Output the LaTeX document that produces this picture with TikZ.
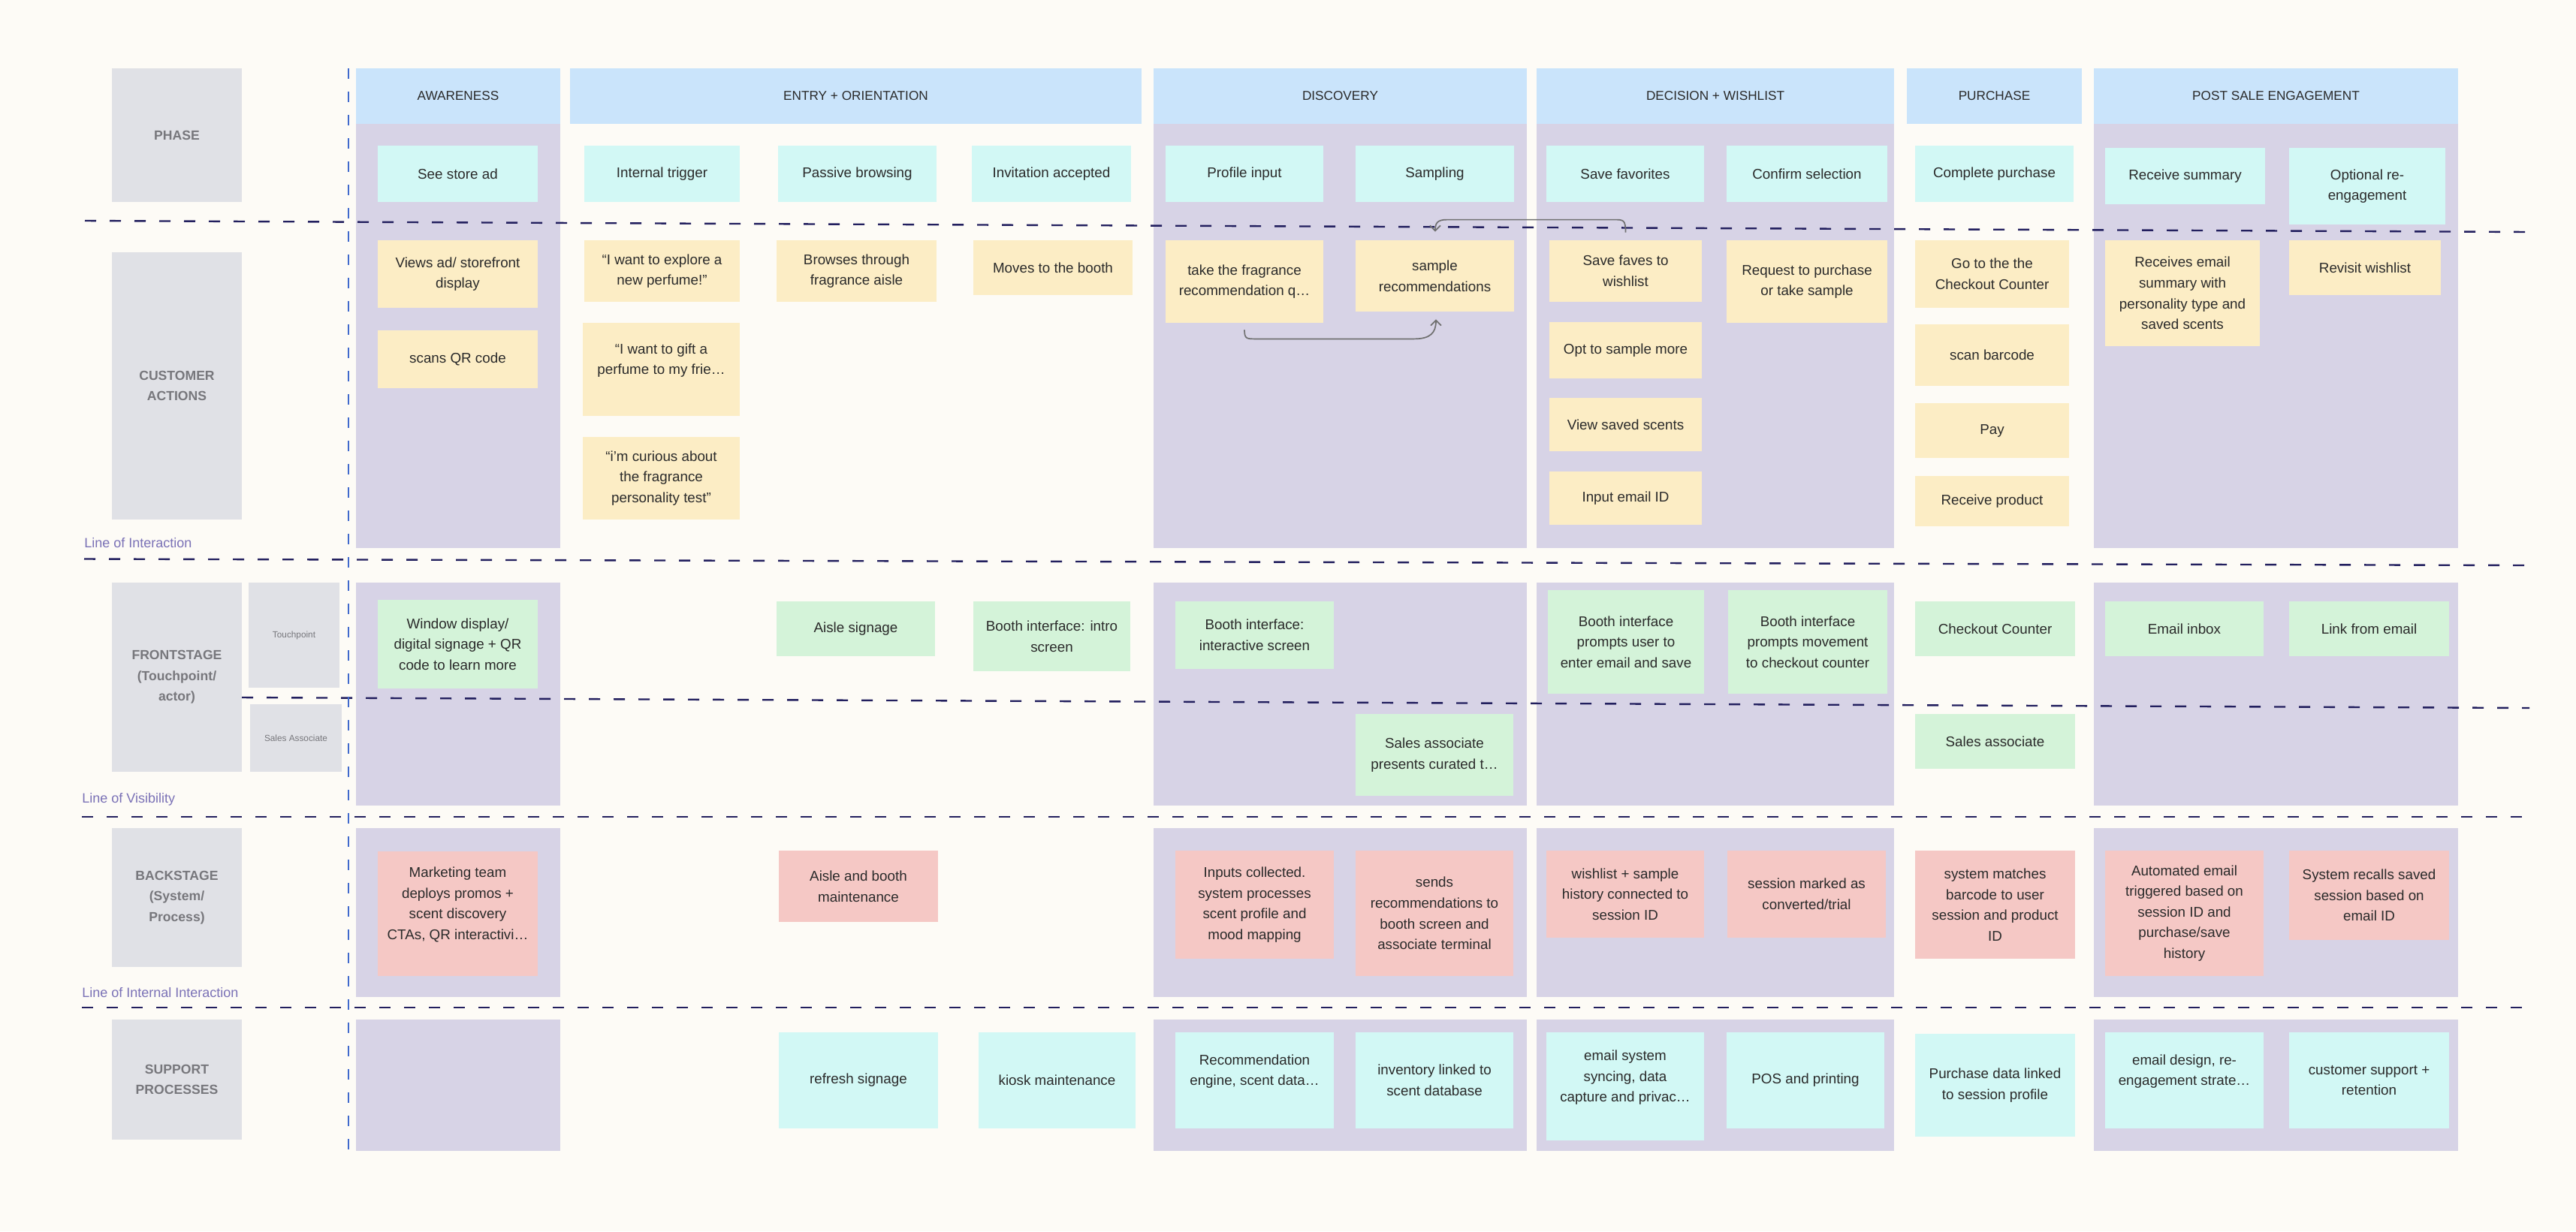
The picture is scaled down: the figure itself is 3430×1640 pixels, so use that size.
\documentclass[tikz,border=0pt]{standalone}
\usepackage{fontspec}
\setmainfont{Liberation Sans}
\usetikzlibrary{calc,arrows.meta}
\definecolor{bgc}{HTML}{FDFBF6}
\definecolor{hdrc}{HTML}{CAE4FB}
\definecolor{lanec}{HTML}{D7D3E6}
\definecolor{grayc}{HTML}{E0E1E6}
\definecolor{cyc}{HTML}{D2F8F5}
\definecolor{yec}{HTML}{FCEDC5}
\definecolor{grc}{HTML}{D4F3D9}
\definecolor{pkc}{HTML}{F5C8C5}
\definecolor{txtc}{HTML}{2A2A2A}
\definecolor{lblc}{HTML}{77777C}
\definecolor{linec}{HTML}{221F5E}
\definecolor{vlinec}{HTML}{4069CC}
\definecolor{lotc}{HTML}{7A71B6}
\definecolor{arrc}{HTML}{707070}
\newcommand\cardfont{\fontsize{9.4}{13.8}\selectfont}
\newcommand\hdrfont{\fontsize{8.6}{12}\selectfont}
\newcommand\lblfont{\fontsize{8.8}{13.8}\selectfont\bfseries}
\newcommand\smallfont{\fontsize{5.9}{8}\selectfont}
\newcommand\lotfont{\fontsize{9}{12}\selectfont}
\newcommand\card[7]{%
  \pgfmathsetmacro\cardW{(#4-#2)*0.5}%
  \pgfmathsetmacro\cardH{(#5-#3)*0.5}%
  \node[#6, minimum width=\cardW pt, minimum height=\cardH pt] (#1) at ({(#2+#4)/2},{(#3+#5)/2}) {#7};%
}
\tikzset{
  box/.style={rectangle, inner sep=0pt, align=center},
  lane/.style={box, fill=lanec},
  hdr/.style={box, fill=hdrc, text=txtc, font=\hdrfont},
  rowlbl/.style={box, fill=grayc, text=lblc, font=\lblfont},
  sublbl/.style={box, fill=grayc, text=lblc, font=\smallfont},
  card/.style={box, text=txtc, font=\cardfont},
  cy/.style={card, fill=cyc},
  ye/.style={card, fill=yec},
  gr/.style={card, fill=grc},
  pk/.style={card, fill=pkc},
  sepline/.style={draw=linec, line width=1.2pt, dash pattern=on 7.5pt off 9pt},
  vline/.style={draw=vlinec, line width=1pt, dash pattern=on 7pt off 8.5pt},
  lotlbl/.style={anchor=west, inner sep=0pt, text=lotc, font=\lotfont},
  conn/.style={draw=arrc, line width=0.85pt, -{Straight Barb[length=3.5pt,width=7pt]}}
}
\begin{document}
\begin{tikzpicture}[x=0.5pt,y=-0.5pt]
\fill[bgc] (0,0) rectangle (3430,1640);
\useasboundingbox (0,0) rectangle (3430,1640);

% lanes
\card{laneA1}{474}{165}{746}{730}{lane}{}
\card{laneD1}{1536}{165}{2033}{730}{lane}{}
\card{laneW1}{2046}{165}{2522}{730}{lane}{}
\card{laneP1}{2788}{165}{3273}{730}{lane}{}
\card{laneA2}{474}{776}{746}{1073}{lane}{}
\card{laneD2}{1536}{776}{2033}{1073}{lane}{}
\card{laneW2}{2046}{776}{2522}{1073}{lane}{}
\card{laneP2}{2788}{776}{3273}{1073}{lane}{}
\card{laneA3}{474}{1103}{746}{1328}{lane}{}
\card{laneD3}{1536}{1103}{2033}{1328}{lane}{}
\card{laneW3}{2046}{1103}{2522}{1328}{lane}{}
\card{laneP3}{2788}{1103}{3273}{1328}{lane}{}
\card{laneA4}{474}{1358}{746}{1533}{lane}{}
\card{laneD4}{1536}{1358}{2033}{1533}{lane}{}
\card{laneW4}{2046}{1358}{2522}{1533}{lane}{}
\card{laneP4}{2788}{1358}{3273}{1533}{lane}{}

% headers
\card{hA}{474}{91}{746}{165}{hdr}{AWARENESS}
\card{hE}{759}{91}{1520}{165}{hdr}{ENTRY + ORIENTATION}
\card{hD}{1536}{91}{2033}{165}{hdr}{DISCOVERY}
\card{hW}{2046}{91}{2522}{165}{hdr}{DECISION + WISHLIST}
\card{hP}{2539}{91}{2772}{165}{hdr}{PURCHASE}
\card{hS}{2788}{91}{3273}{165}{hdr}{POST SALE ENGAGEMENT}

% row labels
\card{rPhase}{149}{91}{322}{269}{rowlbl}{PHASE}
\card{rCust}{149}{336}{322}{692}{rowlbl}{CUSTOMER\\ACTIONS}
\card{rFront}{149}{776}{322}{1028}{rowlbl}{FRONTSTAGE\\(Touchpoint/\\actor)}
\card{rTouch}{331}{776}{452}{916}{sublbl}{Touchpoint}
\card{rSales}{333}{938}{455}{1028}{sublbl}{Sales Associate}
\card{rBack}{149}{1103}{322}{1288}{rowlbl}{BACKSTAGE\\(System/\\Process)}
\card{rSupp}{149}{1358}{322}{1518}{rowlbl}{SUPPORT\\PROCESSES}

% separator lines
\coordinate (l1a) at (113,294);  \coordinate (l1b) at (3368,309);
\coordinate (l2a) at (112,744.5); \coordinate (l2b) at (3368,753);
\coordinate (l2ca) at (322,929); \coordinate (l2cb) at (3368,943);
\coordinate (l3a) at (109,1088); \coordinate (l3b) at (3368,1088);
\coordinate (l4a) at (109,1342); \coordinate (l4b) at (3368,1342);
\draw[sepline] (l1a) -- (l1b);
\draw[sepline] (l2a) -- (l2b);
\draw[sepline] (l2ca) -- (l2cb);
\draw[sepline] (l3a) -- (l3b);
\draw[sepline] (l4a) -- (l4b);

\node[lotlbl] (lot1) at (112,723) {Line of Interaction};
\node[lotlbl] (lot2) at (109,1065) {Line of Visibility};
\node[lotlbl] (lot3) at (109,1322) {Line of Internal Interaction};

% phase row
\card{p1}{503}{194}{716}{269}{cy}{See store ad}
\card{p2}{778}{194}{985}{269}{cy}{Internal trigger}
\card{p3}{1036}{194}{1247}{269}{cy}{Passive browsing}
\card{p4}{1294}{194}{1506}{269}{cy}{Invitation accepted}
\card{p5}{1552}{194}{1762}{269}{cy}{Profile input}
\card{p6}{1805}{194}{2016}{269}{cy}{Sampling}
\card{p7}{2059}{194}{2269}{269}{cy}{Save favorites}
\card{p8}{2299}{194}{2513}{269}{cy}{Confirm selection}
\card{p9}{2550}{194}{2761}{269}{cy}{Complete purchase}
\card{p10}{2803}{197}{3016}{272}{cy}{Receive summary}
\card{p11}{3048}{197}{3256}{299}{cy}{Optional re-\\engagement}

% customer actions
\card{c1}{503}{320}{716}{410}{ye}{Views ad/ storefront\\display}
\card{c2}{503}{440}{716}{517}{ye}{scans QR code}
\card{c3}{778}{320}{985}{402}{ye}{“I want to explore a\\new perfume!”}
\card{c4}{776}{430}{985}{554}{ye}{“I want to gift a\\perfume to my frie…\\\mbox{}}
\card{c5}{776}{582}{985}{692}{ye}{“i’m curious about\\the fragrance\\personality test”}
\card{c6}{1034}{320}{1247}{402}{ye}{Browses through\\fragrance aisle}
\card{c7}{1296}{320}{1508}{393}{ye}{Moves to the booth}
\card{c8}{1552}{320}{1762}{430}{ye}{take the fragrance\\recommendation q…}
\card{c9}{1805}{320}{2016}{415}{ye}{sample\\recommendations}
\card{c10}{2063}{320}{2266}{402}{ye}{Save faves to\\wishlist}
\card{c11}{2063}{429}{2266}{504}{ye}{Opt to sample more}
\card{c12}{2063}{530}{2266}{601}{ye}{View saved scents}
\card{c13}{2063}{628}{2266}{699}{ye}{Input email ID}
\card{c14}{2299}{320}{2513}{430}{ye}{Request to purchase\\or take sample}
\card{c15}{2550}{320}{2755}{410}{ye}{Go to the the\\Checkout Counter}
\card{c16}{2550}{432}{2755}{514}{ye}{scan barcode}
\card{c17}{2550}{537}{2755}{610}{ye}{Pay}
\card{c18}{2550}{634}{2755}{701}{ye}{Receive product}
\card{c19}{2803}{320}{3009}{461}{ye}{Receives email\\summary with\\personality type and\\saved scents}
\card{c20}{3048}{320}{3250}{393}{ye}{Revisit wishlist}

% frontstage
\card{f1}{503}{799}{716}{917}{gr}{Window display/\\digital signage + QR\\code to learn more}
\card{f2}{1034}{801}{1245}{874}{gr}{Aisle signage}
\card{f3}{1296}{801}{1505}{894}{gr}{Booth interface: intro\\screen}
\card{f4}{1565}{801}{1776}{891}{gr}{Booth interface:\\interactive screen}
\card{f5}{2061}{786}{2269}{924}{gr}{Booth interface\\prompts user to\\enter email and save}
\card{f6}{2301}{786}{2513}{924}{gr}{Booth interface\\prompts movement\\to checkout counter}
\card{f7}{2550}{801}{2763}{874}{gr}{Checkout Counter}
\card{f8}{2803}{801}{3014}{874}{gr}{Email inbox}
\card{f9}{3048}{801}{3261}{874}{gr}{Link from email}
\card{f10}{1805}{951}{2015}{1060}{gr}{Sales associate\\presents curated t…}
\card{f11}{2550}{951}{2763}{1024}{gr}{Sales associate}

% backstage
\card{b1}{503}{1134}{716}{1300}{pk}{Marketing team\\deploys promos +\\scent discovery\\CTAs, QR interactivi…\\\mbox{}}
\card{b2}{1037}{1133}{1249}{1228}{pk}{Aisle and booth\\maintenance}
\card{b3}{1565}{1133}{1776}{1277}{pk}{Inputs collected.\\system processes\\scent profile and\\mood mapping}
\card{b4}{1805}{1133}{2015}{1300}{pk}{sends\\recommendations to\\booth screen and\\associate terminal}
\card{b5}{2059}{1133}{2269}{1249}{pk}{wishlist + sample\\history connected to\\session ID}
\card{b6}{2300}{1133}{2511}{1249}{pk}{session marked as\\converted/trial}
\card{b7}{2550}{1133}{2763}{1277}{pk}{system matches\\barcode to user\\session and product\\ID}
\card{b8}{2803}{1133}{3014}{1300}{pk}{Automated email\\triggered based on\\session ID and\\purchase/save\\history}
\card{b9}{3048}{1133}{3261}{1252}{pk}{System recalls saved\\session based on\\email ID}

% support
\card{s1}{1037}{1375}{1249}{1503}{cy}{refresh signage}
\card{s2}{1303}{1375}{1512}{1503}{cy}{kiosk maintenance}
\card{s3}{1565}{1375}{1776}{1503}{cy}{Recommendation\\engine, scent data…\\\mbox{}}
\card{s4}{1805}{1375}{2015}{1503}{cy}{inventory linked to\\scent database}
\card{s5}{2059}{1375}{2269}{1519}{cy}{email system\\syncing, data\\capture and privac…\\\mbox{}}
\card{s6}{2299}{1375}{2509}{1503}{cy}{POS and printing}
\card{s7}{2550}{1377}{2763}{1514}{cy}{Purchase data linked\\to session profile}
\card{s8}{2803}{1375}{3014}{1503}{cy}{email design, re-\\engagement strate…\\\mbox{}}
\card{s9}{3048}{1375}{3261}{1503}{cy}{customer support +\\retention}

% vertical divider
\coordinate (vtop) at (464,91);
\coordinate (vbot) at (464,1533);
\draw[vline] (vtop) -- (vbot);

% connectors
\draw[conn] ($(c8.south)+(0,9)$) .. controls ($(c8.south)+(0,21)$) and ($(c8.south)+(3,21)$) .. ($(c8.south)+(15,21)$)
  -- ($(c9.south)+(-28,36)$) .. controls ($(c9.south)+(-6,36)$) and ($(c9.south)+(1.5,28)$) .. ($(c9.south)+(1.5,10)$);
\draw[conn] ($(c10.north)+(0,-10)$) .. controls ($(c10.north)+(0,-27)$) and ($(c10.north)+(-3,-27)$) .. ($(c10.north)+(-15,-27)$)
  -- ($(c9.north)+(16,-27)$) .. controls ($(c9.north)+(3,-27)$) and ($(c9.north)+(0.5,-22)$) .. ($(c9.north)+(0.5,-11)$);
\end{tikzpicture}
\end{document}
